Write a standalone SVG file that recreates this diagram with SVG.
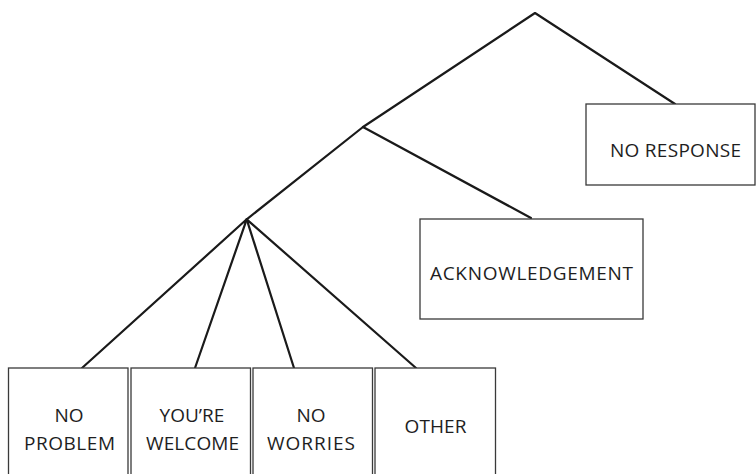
<svg xmlns="http://www.w3.org/2000/svg" width="756" height="474" viewBox="0 0 756 474">
<style>
.box{fill:#fff;stroke:#3a3a3a;stroke-width:1.3}
.edge{fill:none;stroke:#1a1a1a;stroke-width:2.2;stroke-linecap:round;stroke-linejoin:round}
.lbl{font-family:"Open Sans","Liberation Sans",Arial,sans-serif;font-size:19px;fill:#1e1e1e;text-anchor:middle}
</style>
<rect width="756" height="474" fill="#fff"/>
<g id="connectors">
<path class="edge" d="M363,127 L535,13 L675,104"/>
<path class="edge" d="M246.7,219.3 L363,127 L531,218"/>
<path class="edge" d="M82,368 L246.7,219.3 L195,368"/>
<path class="edge" d="M294,368 L246.7,219.3 L416,368"/>
</g>
<g id="no-response">
<rect class="box" x="586" y="104" width="169" height="81"/>
<text class="lbl" x="675.5" y="157" textLength="131" lengthAdjust="spacing">NO RESPONSE</text>
</g>
<g id="acknowledgement">
<rect class="box" x="420" y="219" width="223" height="100"/>
<text class="lbl" x="531.5" y="280" textLength="203" lengthAdjust="spacing">ACKNOWLEDGEMENT</text>
</g>
<g id="no-problem">
<rect class="box" x="8.5" y="368" width="119.5" height="110"/>
<text class="lbl" x="69" y="422">NO</text>
<text class="lbl" x="69.5" y="450" textLength="91" lengthAdjust="spacing">PROBLEM</text>
</g>
<g id="youre-welcome">
<rect class="box" x="131" y="368" width="119.5" height="110"/>
<text class="lbl" x="192" y="422">YOU’RE</text>
<text class="lbl" x="192.5" y="450" textLength="93" lengthAdjust="spacing">WELCOME</text>
</g>
<g id="no-worries">
<rect class="box" x="253" y="368" width="119.5" height="110"/>
<text class="lbl" x="311" y="422">NO</text>
<text class="lbl" x="311" y="450" textLength="88" lengthAdjust="spacing">WORRIES</text>
</g>
<g id="other">
<rect class="box" x="375" y="368" width="120.5" height="110"/>
<text class="lbl" x="435.5" y="433" textLength="62" lengthAdjust="spacing">OTHER</text>
</g>
</svg>
